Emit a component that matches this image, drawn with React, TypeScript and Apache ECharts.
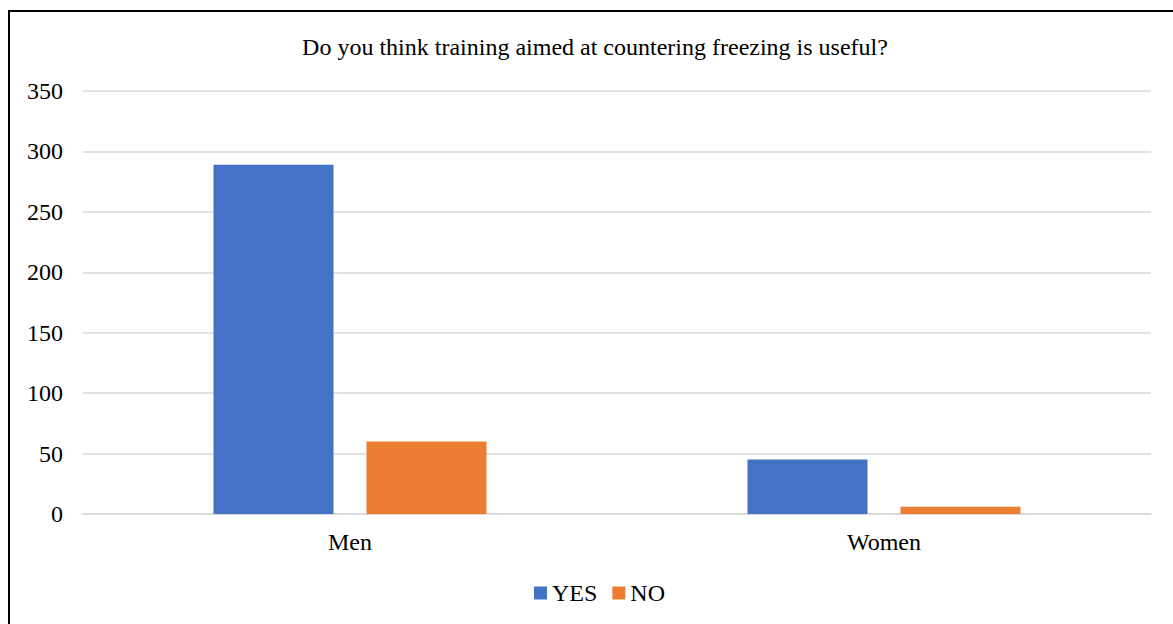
import React, { useEffect, useRef } from "react";
import * as echarts from "echarts";

const categories = ["Men", "Women"];
const yesValues = [289, 45];
const noValues = [60, 6];
const seriesNames = ["YES", "NO"];
const titleText = "Do you think training aimed at countering freezing is useful?";

const FONT = '"Liberation Serif", "Times New Roman", serif';

export default function App() {
  const ref = useRef<HTMLDivElement>(null);
  useEffect(() => {
    if (!ref.current) return;
    const chart = echarts.init(ref.current, undefined, { renderer: "svg" });
    chart.setOption({
      animation: false,
      textStyle: { fontFamily: FONT },
      title: {
        text: titleText,
        left: 585,
        textAlign: "center",
        top: 23,
        padding: 0,
        textStyle: { fontFamily: FONT, fontSize: 24, fontWeight: "normal", color: "#000" },
      },
      legend: {
        data: seriesNames,
        left: 524,
        top: 569,
        padding: 0,
        itemWidth: 13,
        itemHeight: 13,
        itemGap: 15,
        icon: "rect",
        textStyle: { fontFamily: FONT, fontSize: 24, color: "#000" },
      },
      grid: { left: 73, right: 22, top: 79, bottom: 110, containLabel: false },
      xAxis: {
        type: "category",
        data: categories,
        axisTick: { show: false },
        axisLine: { lineStyle: { color: "#d9d9d9", width: 1.5 } },
        axisLabel: { fontFamily: FONT, fontSize: 24, color: "#000", margin: 16 },
      },
      yAxis: {
        type: "value",
        min: 0,
        max: 350,
        interval: 50,
        axisLine: { show: false },
        axisTick: { show: false },
        splitLine: { lineStyle: { color: "#d9d9d9", width: 1.5 } },
        axisLabel: { fontFamily: FONT, fontSize: 24, color: "#000", margin: 20 },
      },
      series: [
        {
          name: seriesNames[0],
          type: "bar",
          data: yesValues,
          barWidth: 120,
          barGap: "27.5%",
          itemStyle: { color: "#4472C4" },
        },
        {
          name: seriesNames[1],
          type: "bar",
          data: noValues,
          barWidth: 120,
          barGap: "27.5%",
          itemStyle: { color: "#ED7D31" },
        },
      ],
    });
    return () => chart.dispose();
  }, []);
  return (
    <div style={{ position: "fixed", left: 0, top: 0, width: 1173, height: 624, overflow: "hidden", background: "#fff" }}>
      <div
        style={{
          position: "absolute",
          left: 8,
          top: 10,
          width: 1200,
          height: 650,
          borderLeft: "2px solid #000",
          borderTop: "2px solid #000",
        }}
      >
        <div ref={ref} style={{ width: 1163, height: 612 }} />
      </div>
    </div>
  );
}
